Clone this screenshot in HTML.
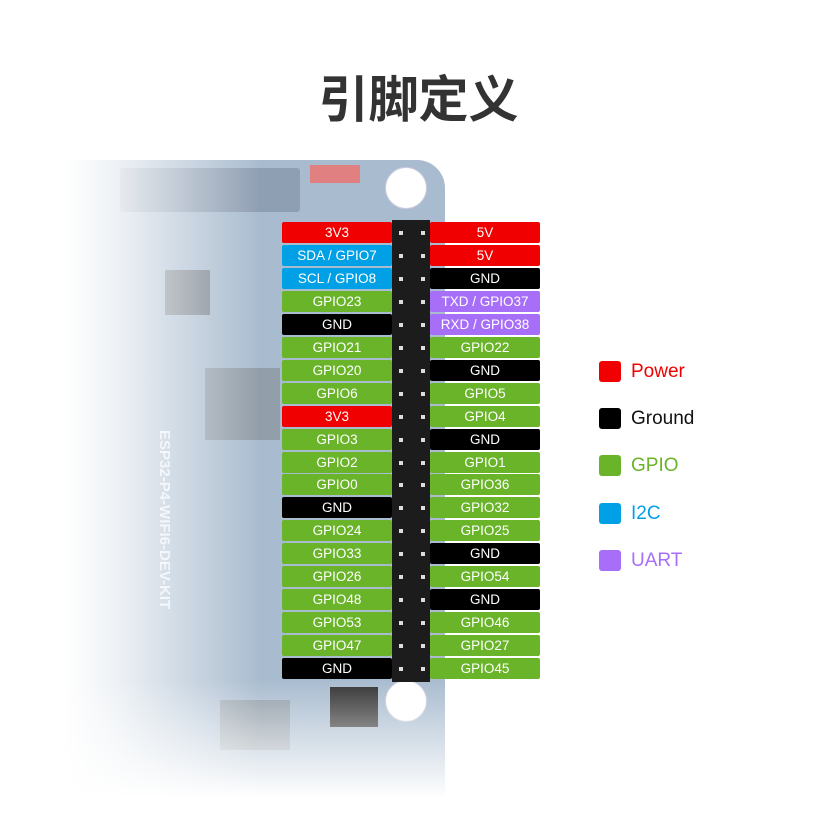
<!DOCTYPE html>
<html><head><meta charset="utf-8"><style>
body{margin:0;width:837px;height:837px;background:#fff;position:relative;overflow:hidden;font-family:"Liberation Sans","Noto Sans CJK SC",sans-serif}
.a{position:absolute}
.p{position:absolute;height:21px;line-height:21px;text-align:center;color:#fff;font-size:13.5px;border-radius:2px}
.r{background:#f00000}.k{background:#000}.g{background:#6ab42a}.b{background:#00a0e6}.u{background:#a76ff7}
.leg{position:absolute;left:599px;width:22px;height:21px;border-radius:3px}
.lt{position:absolute;left:631px;font-size:19px;line-height:22px}
.dot{position:absolute;width:4px;height:4px;background:#ddd}
</style></head><body>
<div class="a" style="left:0;top:60px;width:837px;text-align:center;font-size:50px;font-weight:bold;color:#333;line-height:72px;font-family:'Noto Sans CJK SC',sans-serif">引脚定义</div>
<!-- board -->
<div class="a" style="left:55px;top:160px;width:390px;height:650px;background:#a9bccf;border-top-right-radius:28px"></div>
<div class="a" style="left:205px;top:368px;width:75px;height:72px;background:#929ea9"></div>
<div class="a" style="left:220px;top:700px;width:70px;height:50px;background:#929ea9"></div>
<div class="a" style="left:120px;top:168px;width:180px;height:44px;background:#8f9fb3;border-radius:3px"></div>
<div class="a" style="left:165px;top:270px;width:45px;height:45px;background:#7a848e"></div>
<div class="a" style="left:385px;top:167px;width:40px;height:40px;border-radius:50%;background:#fff;border:1px solid #ccd"></div>
<div class="a" style="left:385px;top:680px;width:40px;height:40px;border-radius:50%;background:#fff;border:1px solid #ccd"></div>
<div class="a" style="left:330px;top:687px;width:48px;height:40px;background:#333"></div>
<div class="a" style="left:310px;top:165px;width:50px;height:18px;background:#e08080"></div>
<div class="a" style="left:155px;top:430px;width:18px;height:220px;color:#e6eef6;font-weight:bold;font-size:15px;writing-mode:vertical-rl">ESP32-P4-WIFI6-DEV-KIT</div>
<div class="a" style="left:0;top:150px;width:260px;height:687px;background:linear-gradient(to right,#fff 25%,rgba(255,255,255,0.8) 45%,rgba(255,255,255,0) 100%)"></div>
<div class="a" style="left:0;top:680px;width:460px;height:157px;background:linear-gradient(to bottom,rgba(255,255,255,0),#fff 75%)"></div>
<!-- header -->
<div class="a" style="left:392px;top:220px;width:38px;height:462px;background:#1c1c1c"></div>
<div id="pins"></div>
<script>
var L=[["3V3","r"],["SDA / GPIO7","b"],["SCL / GPIO8","b"],["GPIO23","g"],["GND","k"],["GPIO21","g"],["GPIO20","g"],["GPIO6","g"],["3V3","r"],["GPIO3","g"],["GPIO2","g"],["GPIO0","g"],["GND","k"],["GPIO24","g"],["GPIO33","g"],["GPIO26","g"],["GPIO48","g"],["GPIO53","g"],["GPIO47","g"],["GND","k"]];
var R=[["5V","r"],["5V","r"],["GND","k"],["TXD / GPIO37","u"],["RXD / GPIO38","u"],["GPIO22","g"],["GND","k"],["GPIO5","g"],["GPIO4","g"],["GND","k"],["GPIO1","g"],["GPIO36","g"],["GPIO32","g"],["GPIO25","g"],["GND","k"],["GPIO54","g"],["GND","k"],["GPIO46","g"],["GPIO27","g"],["GPIO45","g"]];
var h="";
for(var i=0;i<20;i++){var y=Math.round(222+i*22.95);
h+='<div class="p '+L[i][1]+'" style="left:282px;top:'+y+'px;width:110px">'+L[i][0]+'</div>';
h+='<div class="p '+R[i][1]+'" style="left:430px;top:'+y+'px;width:110px">'+R[i][0]+'</div>';
h+='<div class="dot" style="left:399px;top:'+(y+9)+'px"></div><div class="dot" style="left:421px;top:'+(y+9)+'px"></div>';}
document.getElementById("pins").innerHTML=h;
</script>
<div class="leg r" style="top:361px"></div><div class="lt" style="top:361px;color:#f00000">Power</div>
<div class="leg k" style="top:408px"></div><div class="lt" style="top:408px;color:#111">Ground</div>
<div class="leg g" style="top:455px"></div><div class="lt" style="top:455px;color:#6ab42a">GPIO</div>
<div class="leg b" style="top:503px"></div><div class="lt" style="top:503px;color:#00a0e6">I2C</div>
<div class="leg u" style="top:550px"></div><div class="lt" style="top:550px;color:#a76ff7">UART</div>
</body></html>
